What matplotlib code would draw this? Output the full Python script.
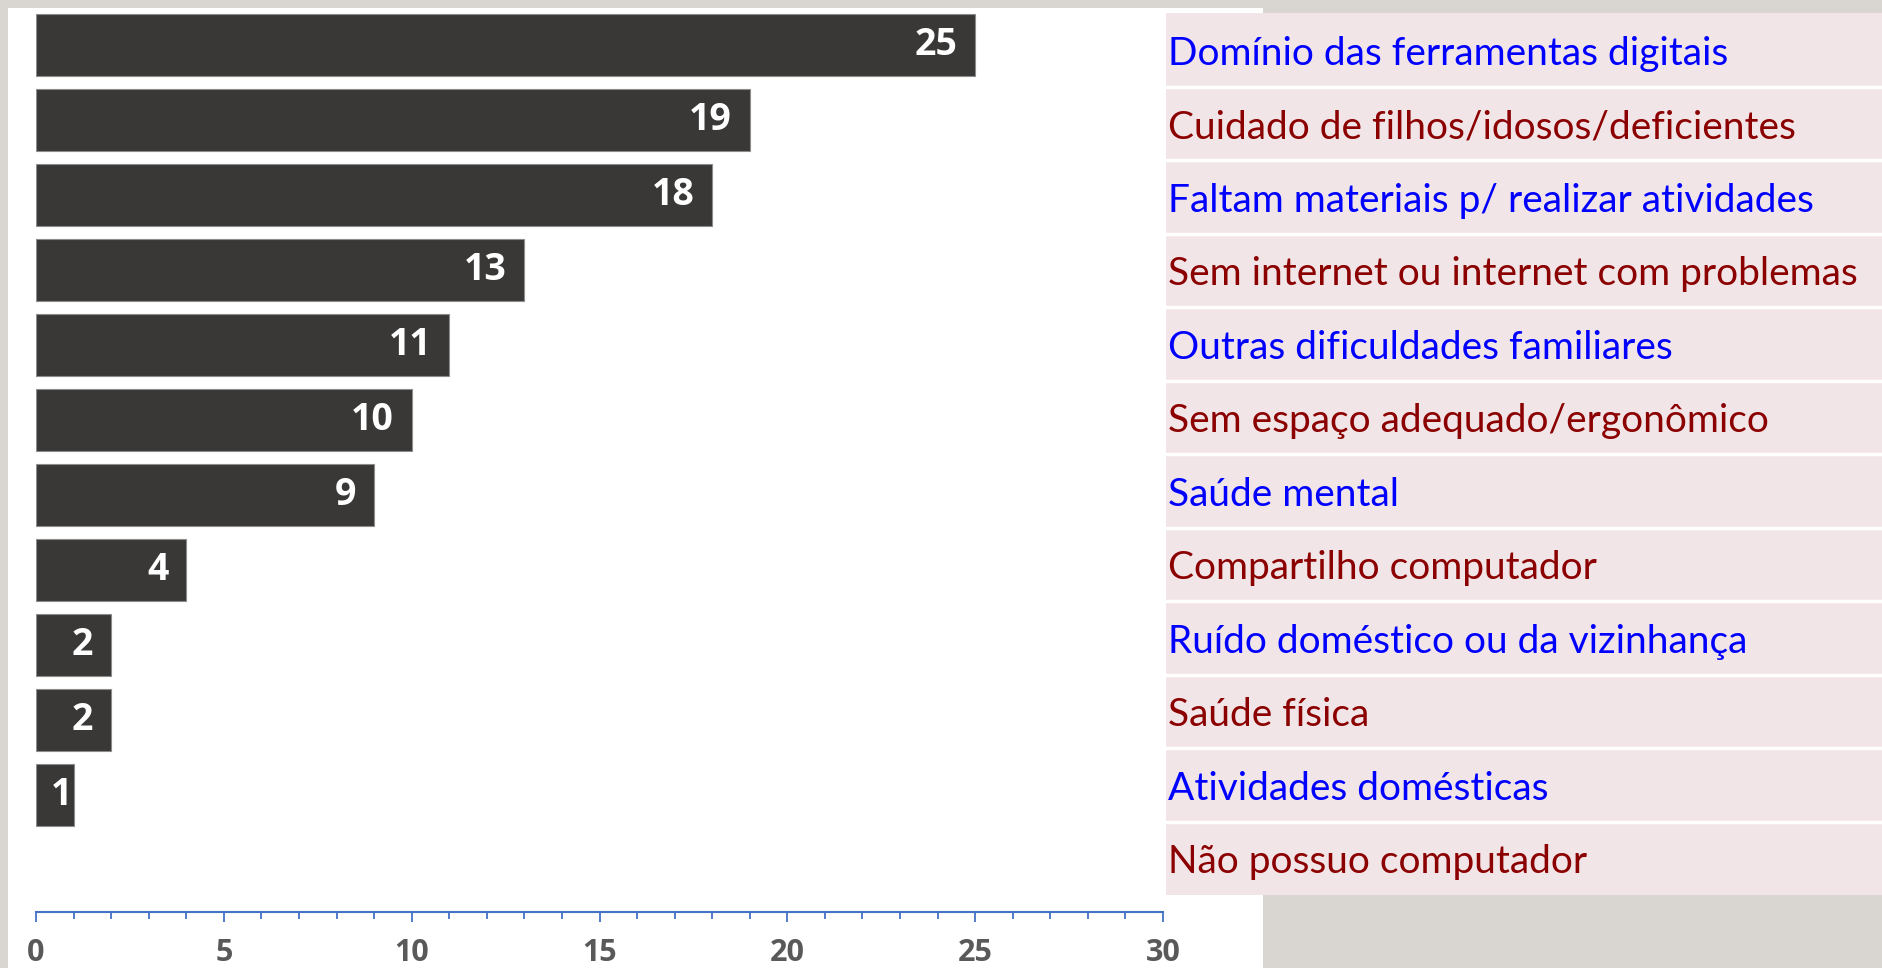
import numpy as np
import matplotlib.pyplot as plt
from matplotlib.patches import Rectangle

categorias = [
    "Domínio das ferramentas digitais",
    "Cuidado de filhos/idosos/deficientes",
    "Faltam materiais p/ realizar atividades",
    "Sem internet ou internet com problemas",
    "Outras dificuldades familiares",
    "Sem espaço adequado/ergonômico",
    "Saúde mental",
    "Compartilho computador",
    "Ruído doméstico ou da vizinhança",
    "Saúde física",
    "Atividades domésticas",
    "Não possuo computador",
]
valores = [25, 19, 18, 13, 11, 10, 9, 4, 2, 2, 1, 0]
cores_rotulo = ["#0000ff", "#8b0000"] * 6
ticks_x = [0, 5, 10, 15, 20, 25, 30]

W, H = 1882, 968
fig = plt.figure(figsize=(W / 100, H / 100), dpi=100)
fig.patch.set_facecolor("#d9d6d1")

# fundo: painel branco + tabela rosa com as categorias (coordenadas em pixels)
bg = fig.add_axes([0, 0, 1, 1])
bg.set_xlim(0, W)
bg.set_ylim(H, 0)
bg.axis("off")
bg.add_patch(Rectangle((8, 8), 1255, H, fc="white", ec="none"))

topo, passo, x_tab = 13, 73.5, 1166
bg.add_patch(Rectangle((x_tab, topo), W - x_tab, passo * len(categorias), fc="#f2e5e8", ec="none"))
for i in range(1, len(categorias)):
    bg.plot([x_tab, W], [topo + passo * i] * 2, color="white", lw=2.5)
for i, (c, cor) in enumerate(zip(categorias, cores_rotulo)):
    bg.text(x_tab + 2, topo + passo * (i + 0.5) + 15, c, color=cor,
            fontsize=28, family="Lato", va="baseline", ha="left")

# grafico de barras
px0, px1 = 36, 1163
py0, py1 = 8, 912
ax = fig.add_axes([px0 / W, 1 - py1 / H, (px1 - px0) / W, (py1 - py0) / H])
ax.set_facecolor("none")
y = np.arange(len(valores))
lw = [0.8 if v > 0 else 0 for v in valores]
ax.barh(y, valores, height=0.827, color="#3a3836", edgecolor="#8c8c8c", linewidth=lw)
ax.set_xlim(0, 30)
ax.set_ylim((py1 - 45) / 75, (py0 - 45) / 75)

for i, v in enumerate(valores):
    if v <= 0:
        continue
    off = -18 if v > 1 else -1
    ax.annotate(str(v), (v, i), xytext=(off, 0), textcoords="offset pixels",
                ha="right", va="center", color="white", fontsize=27,
                fontweight="bold", family="Open Sans")

for s in ["left", "top", "right"]:
    ax.spines[s].set_visible(False)
ax.spines["bottom"].set_color("#4472c4")
ax.spines["bottom"].set_linewidth(1.5)
ax.set_yticks([])
ax.set_xticks(ticks_x, labels=[str(t) for t in ticks_x])
ax.set_xticks(range(31), minor=True)
ax.tick_params(axis="x", which="major", length=7.5, width=1.3, color="#4472c4",
               labelsize=22, labelcolor="#595959", pad=11)
ax.tick_params(axis="x", which="minor", length=5, width=1.3, color="#4472c4")
for lbl in ax.get_xticklabels():
    lbl.set_fontweight("bold")
    lbl.set_family("Open Sans")

fig.savefig("out.png", dpi=100, facecolor=fig.get_facecolor())
